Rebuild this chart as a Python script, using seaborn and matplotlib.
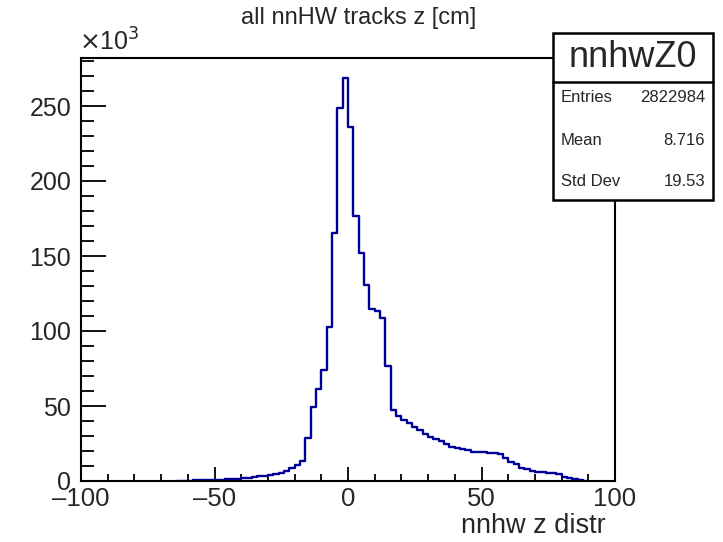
import numpy as np
import pandas as pd
import matplotlib
matplotlib.use("Agg")
import matplotlib.pyplot as plt
from matplotlib.ticker import MultipleLocator
import seaborn as sns

# ---- data (counts in thousands per 2 cm bin) ----
bin_start = -64
bin_width = 2
counts_k = [
    # -64 .. -16
    0.2, 0.3, 0.3, 0.4, 0.5, 0.5, 0.6, 0.8, 0.9, 1.1, 1.3, 1.6,
    1.9, 2.3, 2.7, 3.1, 3.6, 4.1, 4.7, 5.5, 6.5, 8.8, 11.0, 13.3,
    # -16 .. 16
    28.9, 49.6, 61.3, 74.0, 103.0, 165.5, 248.4, 269.0,
    236.0, 177.0, 152.0, 131.0, 114.5, 113.5, 109.0, 76.7,
    # 16 .. 48
    47.5, 43.5, 41.0, 39.0, 36.0, 34.0, 31.5, 29.5,
    28.0, 26.5, 24.5, 23.0, 22.0, 21.5, 20.5, 19.5,
    # 48 .. 90
    19.6, 19.6, 18.4, 18.4, 18.0, 15.1, 12.9, 11.1, 8.9, 7.8, 6.9,
    6.2, 6.2, 5.6, 5.6, 4.7, 2.9, 1.8, 1.1, 0.8, 0.3,
]
xtick_vals = [-100, -50, 0, 50, 100]
xtick_labels = ["\u2013100", "\u201350", "0", "50", "100"]
title = "all nnHW tracks z [cm]"
xlabel = "nnhw z distr"
stats_name = "nnhwZ0"
stats_rows = [("Entries", "2822984"), ("Mean", "8.716"), ("Std Dev", "19.53")]

edges = [float(bin_start + bin_width * i) for i in range(len(counts_k) + 1)]
centers = [(a + b) / 2 for a, b in zip(edges[:-1], edges[1:])]
df = pd.DataFrame({"z": centers, "n": counts_k})

sns.set_style("ticks")
plt.rcParams["font.family"] = ["Liberation Sans", "DejaVu Sans"]

W, H = 723, 542
fig = plt.figure(figsize=(W / 100, H / 100), dpi=100)
ax = fig.add_axes([81 / W, 1 - 481 / H, (615 - 81) / W, (481 - 58) / H])

sns.histplot(data=df, x="z", weights="n", binwidth=bin_width,
             binrange=(edges[0], edges[-1]), element="step",
             fill=False, color="#000099", linewidth=1.7, ax=ax)

ax.set_xlim(-100, 100)
ax.set_xlabel("")
ax.set_ylabel("")
ax.xaxis.set_minor_locator(MultipleLocator(10))
ax.yaxis.set_major_locator(MultipleLocator(50))
ax.yaxis.set_minor_locator(MultipleLocator(10))
ax.tick_params(axis="both", which="both", direction="in", top=False, right=False,
               width=1.3, color="black")
ax.tick_params(axis="x", which="major", length=10, pad=4, labelsize=18.5)
ax.tick_params(axis="x", which="minor", length=5)
ax.tick_params(axis="y", which="major", length=18, pad=7, labelsize=18)
ax.tick_params(axis="y", which="minor", length=9)
ax.set_xticks(xtick_vals)
ax.set_xticklabels(xtick_labels)
ax.set_ylim(0, 282)
for s in ax.spines.values():
    s.set_linewidth(1.5)
    s.set_color("black")
    s.set_visible(True)

fig.text(359 / W, 1 - 18 / H, title, ha="center", va="center", fontsize=17)
fig.text(606 / W, 1 - 526 / H, xlabel, ha="right", va="center", fontsize=19.5)
fig.text(79 / W, 1 - 42 / H, r"$\times$10$^{3}$", ha="left", va="center", fontsize=18)

# stats box
bx0, bx1, by0, by1 = 553 / W, 713 / W, 1 - 200 / H, 1 - 33 / H
hy = 1 - 82 / H
fig.patches.append(plt.Rectangle((bx0, by0), bx1 - bx0, by1 - by0, transform=fig.transFigure,
                                 facecolor="white", edgecolor="black", linewidth=1.8, zorder=5))
fig.lines.append(plt.Line2D([bx0, bx1], [hy, hy], transform=fig.transFigure,
                            color="black", linewidth=1.8, zorder=6))
fig.text((bx0 + bx1) / 2, (hy + by1) / 2, stats_name, ha="center", va="center",
         fontsize=26, zorder=7)
row_y = [98, 140, 181]
for (k, v), yy in zip(stats_rows, row_y):
    fig.text(561 / W, 1 - yy / H, k, ha="left", va="center", fontsize=12, zorder=7)
    fig.text(705 / W, 1 - yy / H, v, ha="right", va="center", fontsize=12, zorder=7)

fig.savefig("out.png", dpi=100)
